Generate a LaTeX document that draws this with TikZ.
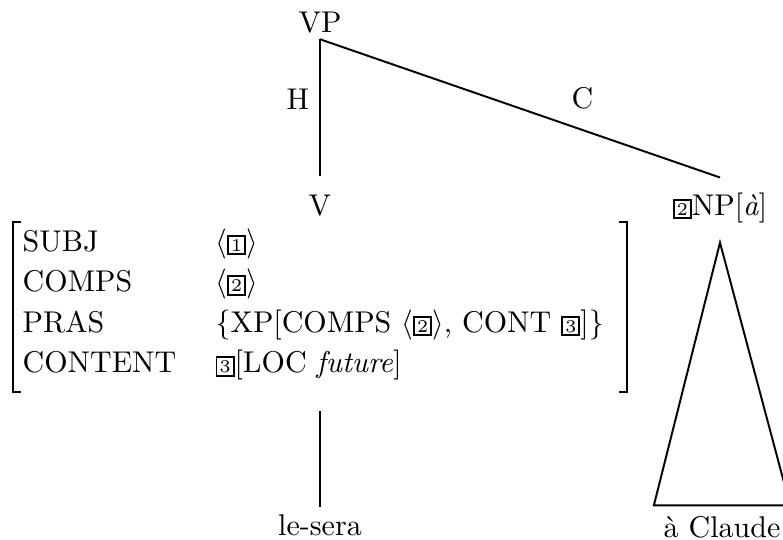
\documentclass[tikz,border=0pt]{standalone}
\usetikzlibrary{positioning}

% boxed tag numbers
\newcommand{\tg}[1]{{\setlength{\fboxsep}{0.7pt}\setlength{\fboxrule}{0.65pt}\fbox{\fontsize{6}{7}\selectfont #1}}}

\begin{document}
\begin{tikzpicture}[
  x=0.3333pt, y=-0.3333pt,
  lbl/.style={inner sep=0pt, anchor=base},
  edge/.style={line width=0.65pt},
  brk/.style={line width=0.7pt},
]
  \useasboundingbox (0,0) rectangle (783,540);
  \clip (0,0) rectangle (783,540);

  % Tree labels
  \node[lbl] (vp) at (320,32) {VP};
  \node[lbl] (v) at (320,215) {V};
  \node[lbl] (np) at (720,215) {\tg{2}NP[\textit{à}]};
  \node[lbl] (lesera) at (320,535) {le-sera};
  \node[lbl] (claude) at (722,537) {à Claude};

  % Attribute-value matrix
  \node[lbl, anchor=base west] (avm) at (22,251) {\def\arraystretch{1.125}%
    \begin{tabular}[t]{@{}p{64.3pt}@{}l@{}}
      SUBJ    & $\langle$\tg{1}$\rangle$ \\
      COMPS   & $\langle$\tg{2}$\rangle$ \\
      PRAS    & \{XP[COMPS $\langle$\tg{2}$\rangle$, CONT \tg{3}]\} \\
      CONTENT & \tg{3}[LOC \textit{future}] \\
    \end{tabular}};
  \coordinate (lb-top) at (13,222);
  \coordinate (lb-bot) at (13,392);
  \coordinate (rb-top) at (627,222);
  \coordinate (rb-bot) at (627,392);
  \draw[brk] (lb-top) ++(8,0) -- (lb-top) -- (lb-bot) -- ++(8,0);
  \draw[brk] (rb-top) ++(-8,0) -- (rb-top) -- (rb-bot) -- ++(-8,0);

  % Branch points
  \coordinate (vp-root) at ([yshift=-2pt]vp.south);
  \coordinate (v-top) at ([yshift=6pt]v.north);
  \coordinate (np-top) at ([yshift=4.8pt]np.north);
  \coordinate (np-foot) at ([yshift=-6.5pt]np.south);
  \coordinate (avm-foot) at (320,411);
  \coordinate (lesera-top) at ([yshift=2.3pt]lesera.north);
  \coordinate (tri-base) at ([yshift=3.3pt]claude.north);

  % Edges
  \draw[edge] (vp-root) -- node[pos=0.44, left] {H} (v-top);
  \draw[edge] (vp-root) -- node[pos=0.656, above=3.3pt] {C} (np-top);
  \draw[edge] (avm-foot) -- (lesera-top);
  \draw[edge] (np-foot) -- ([xshift=-22.7pt]tri-base)
    -- ([xshift=22.7pt]tri-base) -- cycle;
\end{tikzpicture}
\end{document}
